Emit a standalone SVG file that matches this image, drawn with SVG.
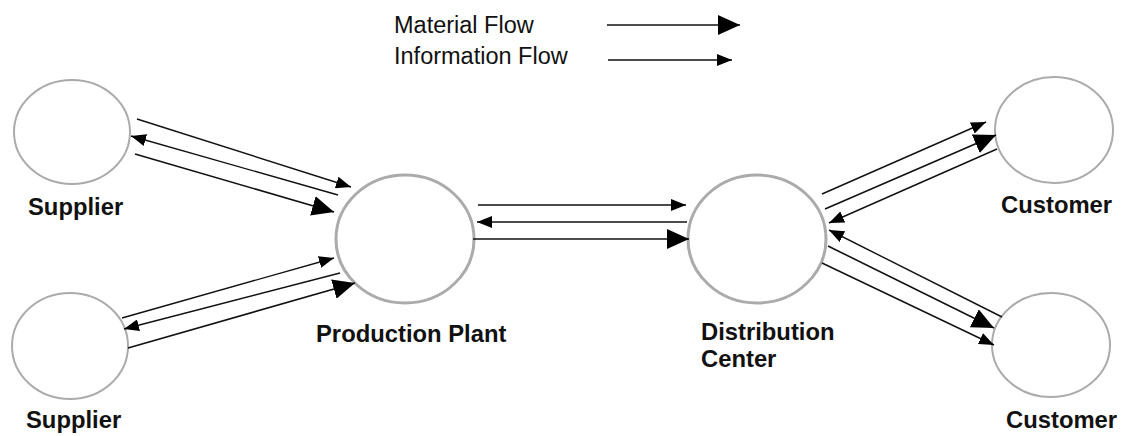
<svg xmlns="http://www.w3.org/2000/svg" width="1128" height="436" viewBox="0 0 1128 436">
<style>
.node{fill:#fff;stroke:#ababab;stroke-width:2}
.big{stroke-width:3}
.lbl{font-family:"Liberation Sans",Arial,sans-serif;font-weight:bold;font-size:23.8px;fill:#111}
.leg{font-family:"Liberation Sans",Arial,sans-serif;font-size:23.5px;fill:#111}
.mat{stroke:#111;stroke-width:1.6;fill:none;marker-end:url(#mbig)}
.inf{stroke:#111;stroke-width:1.4;fill:none;marker-end:url(#msmall)}
</style>
<defs>
<marker id="mbig" markerUnits="userSpaceOnUse" markerWidth="22" markerHeight="20" refX="22" refY="10" orient="auto"><path d="M0,0 L22,10 L0,20 z" fill="#000"/></marker>
<marker id="msmall" markerUnits="userSpaceOnUse" markerWidth="15" markerHeight="12" refX="15" refY="6" orient="auto"><path d="M0,0 L15,6 L0,12 z" fill="#000"/></marker>
</defs>
<rect width="1128" height="436" fill="#fff"/>
<g id="legend">
<text class="leg" x="394" y="33">Material Flow</text>
<text class="leg" x="394" y="64">Information Flow</text>
<line class="mat" x1="607" y1="25" x2="740" y2="25"/>
<line class="inf" x1="608" y1="60" x2="732" y2="60"/>
</g>
<g id="supplier1"><ellipse class="node" cx="72" cy="132" rx="58" ry="52"/><text class="lbl" x="28" y="215">Supplier</text></g>
<g id="supplier2"><ellipse class="node" cx="70" cy="346" rx="58" ry="53"/><text class="lbl" x="26" y="428">Supplier</text></g>
<g id="production"><ellipse class="node big" cx="405" cy="239" rx="69" ry="64"/><text class="lbl" x="316" y="342">Production Plant</text></g>
<g id="distribution"><ellipse class="node big" cx="757" cy="239" rx="69" ry="64"/><text class="lbl" x="701" y="340">Distribution</text><text class="lbl" x="701" y="367">Center</text></g>
<g id="customer1"><ellipse class="node" cx="1054" cy="130" rx="59" ry="53"/><text class="lbl" x="1001" y="213">Customer</text></g>
<g id="customer2"><ellipse class="node" cx="1051" cy="345" rx="59" ry="52"/><text class="lbl" x="1006" y="428">Customer</text></g>
<g id="connectors">
<line class="inf" x1="137" y1="119" x2="351" y2="187"/>
<line class="inf" x1="338" y1="195" x2="131" y2="136"/>
<line class="mat" x1="135" y1="154" x2="334" y2="212"/>
<line class="inf" x1="122" y1="318" x2="334" y2="258"/>
<line class="inf" x1="340" y1="273" x2="124" y2="329"/>
<line class="mat" x1="128" y1="348" x2="355" y2="283"/>
<line class="inf" x1="478" y1="205" x2="686" y2="205"/>
<line class="inf" x1="687" y1="222" x2="477" y2="222"/>
<line class="mat" x1="473" y1="239" x2="689" y2="239"/>
<line class="inf" x1="822" y1="194" x2="986" y2="122"/>
<line class="mat" x1="825" y1="209" x2="996" y2="135"/>
<line class="inf" x1="997" y1="149" x2="829" y2="223"/>
<line class="inf" x1="1002" y1="317" x2="829" y2="230"/>
<line class="mat" x1="828" y1="246" x2="994" y2="328"/>
<line class="inf" x1="822" y1="263" x2="994" y2="345"/>
</g>
</svg>
